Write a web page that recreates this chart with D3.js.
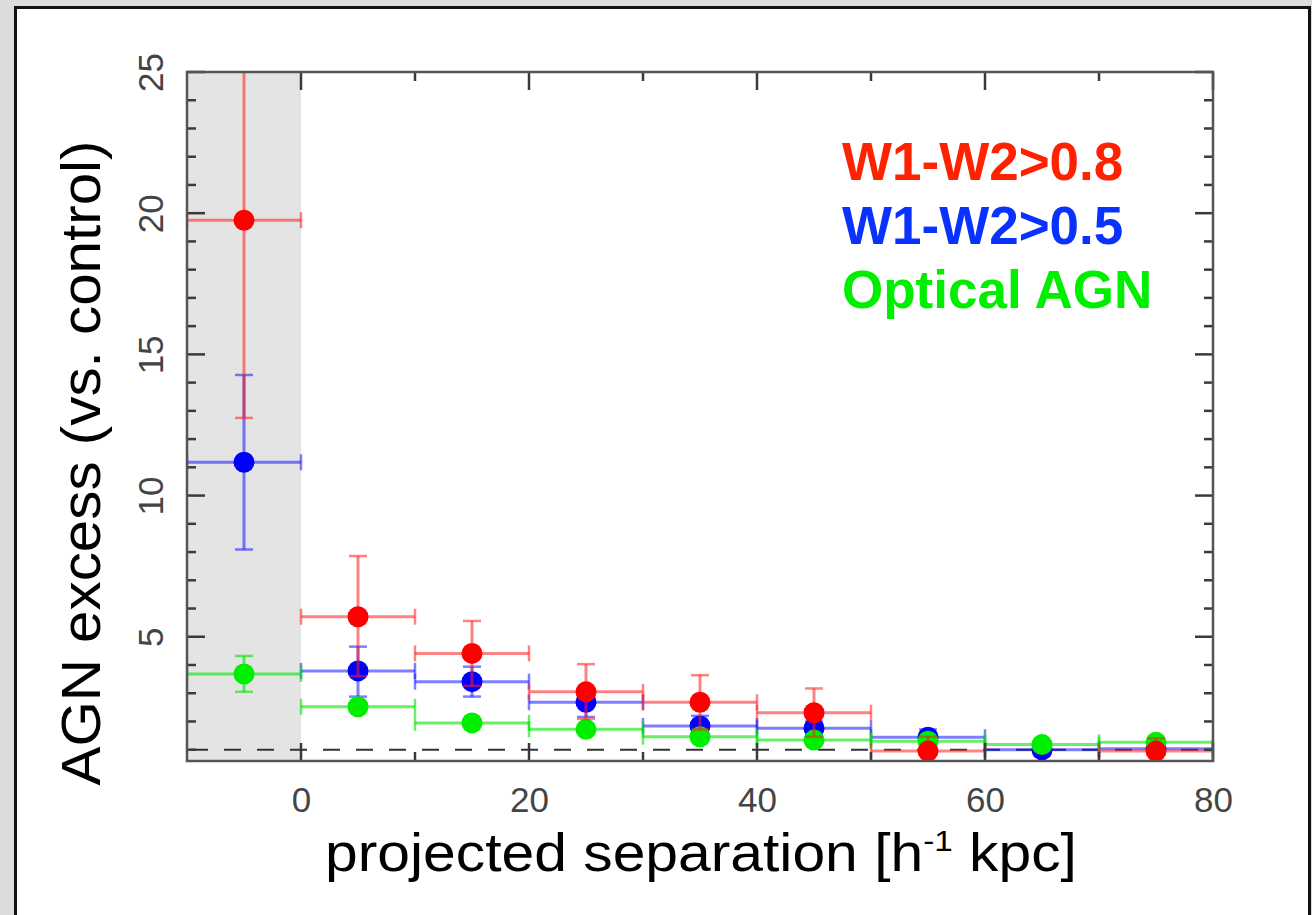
<!DOCTYPE html>
<html>
<head>
<meta charset="utf-8">
<script src="https://cdn.jsdelivr.net/npm/d3@7"></script>
<style>
  html, body { margin: 0; padding: 0; background: #dcdcde; }
  svg { display: block; }
</style>
</head>
<body>
<div id="chart"></div>
<script>
// bin centres [h^-1 kpc], each bin is 10 wide
const bins = [-5, 5, 15, 25, 35, 45, 55, 65, 75];
const halfWidth = 5;

const redY  = [19.75, 5.71, 4.41, 3.05, 2.68, 2.31, 0.95, null, 0.95];
const redLo = [12.75, 3.60, 3.26, 2.09, 1.72, 1.46, 0.45, null, 0.50];
const redHi = [26.80, 7.86, 5.56, 4.03, 3.64, 3.17, 1.46, null, 1.40];

const blueY  = [11.18, 3.79, 3.41, 2.68, 1.84, 1.76, 1.44, 1.00, 1.03];
const blueLo = [ 8.09, 2.88, 2.88, 2.16, 1.50, 1.50, 1.16, 0.80, 0.85];
const blueHi = [14.27, 4.65, 3.94, 3.16, 2.20, 2.00, 1.72, 1.20, 1.20];

const greenY  = [3.68, 2.52, 1.95, 1.72, 1.46, 1.34, 1.30, 1.18, 1.26];
const greenLo = [3.05, 2.37, 1.80, 1.57, 1.31, 1.19, 1.15, 1.03, 1.11];
const greenHi = [4.32, 2.67, 2.10, 1.87, 1.61, 1.49, 1.45, 1.33, 1.41];

const xTicks = [0, 20, 40, 60, 80];
const xMinor = [10, 30, 50, 70];
const yTicks = [5, 10, 15, 20, 25];
const legendLabels = ["W1-W2>0.8", "W1-W2>0.5", "Optical AGN"];

const W = 1312, H = 915;
const svg = d3.select('#chart').append('svg')
  .attr('width', W).attr('height', H);

// white panel with dark frame
svg.append('rect')
  .attr('x', 15.5).attr('y', 7.5)
  .attr('width', 1294).attr('height', 930)
  .attr('fill', 'white')
  .attr('stroke', '#111').attr('stroke-width', 3);

const x = d3.scaleLinear().domain([-10, 80]).range([187, 1213]);
const y = d3.scaleLinear().domain([0.6, 25]).range([761, 72]);

svg.append('clipPath').attr('id', 'plotClip')
  .append('rect')
  .attr('x', x(-10)).attr('y', y(25))
  .attr('width', x(80) - x(-10)).attr('height', y(0.6) - y(25));

// shaded region (separation < 0)
svg.append('rect')
  .attr('x', x(-10)).attr('y', y(25))
  .attr('width', x(0) - x(-10)).attr('height', y(0.6) - y(25))
  .attr('fill', '#e4e4e4');

// dashed line at excess = 1
svg.append('line')
  .attr('x1', x(-10)).attr('x2', x(80))
  .attr('y1', y(1)).attr('y2', y(1))
  .attr('stroke', '#333').attr('stroke-width', 2)
  .attr('stroke-dasharray', '17,16')
  .attr('stroke-dashoffset', -4);

const series = [
  { ys: blueY,  lo: blueLo,  hi: blueHi,  dot: '#0000ff', bar: 'rgba(20,20,255,0.55)' },
  { ys: greenY, lo: greenLo, hi: greenHi, dot: '#00ee00', bar: 'rgba(0,230,0,0.6)' },
  { ys: redY,   lo: redLo,   hi: redHi,   dot: '#ff0000', bar: 'rgba(255,30,30,0.55)' }
];

const dataG = svg.append('g').attr('clip-path', 'url(#plotClip)');

series.forEach(s => {
  const pts = bins.map((b, i) => ({ b: b, v: s.ys[i], lo: s.lo[i], hi: s.hi[i] }))
    .filter(d => d.v !== null);
  const g = dataG.append('g');
  const capV = 8, capH = 9;

  // horizontal bars with end caps
  pts.forEach(d => {
    const x0 = x(d.b - halfWidth), x1 = x(d.b + halfWidth), yy = y(d.v);
    g.append('line').attr('x1', x0).attr('x2', x1).attr('y1', yy).attr('y2', yy)
      .attr('stroke', s.bar).attr('stroke-width', 3);
    [x0, x1].forEach(xe => {
      g.append('line').attr('x1', xe).attr('x2', xe)
        .attr('y1', yy - capV).attr('y2', yy + capV)
        .attr('stroke', s.bar).attr('stroke-width', 2.5);
    });
  });

  // vertical bars with caps
  pts.forEach(d => {
    const xx = x(d.b);
    g.append('line').attr('x1', xx).attr('x2', xx)
      .attr('y1', y(d.lo)).attr('y2', y(d.hi))
      .attr('stroke', s.bar).attr('stroke-width', 3);
    [d.lo, d.hi].forEach(v => {
      g.append('line').attr('x1', xx - capH).attr('x2', xx + capH)
        .attr('y1', y(v)).attr('y2', y(v))
        .attr('stroke', s.bar).attr('stroke-width', 2.5);
    });
  });

  g.selectAll('circle').data(pts).enter().append('circle')
    .attr('cx', d => x(d.b)).attr('cy', d => y(d.v))
    .attr('r', 10.5).attr('fill', s.dot);
});

// inward ticks on all four sides
const tickColor = '#3a3a3a';
const yMinor = d3.range(1, 25).filter(v => v % 5 !== 0);
const tickG = svg.append('g');

function xTickLines(values, len) {
  [[y(0.6), -len], [y(25), len]].forEach(([y0, dir]) => {
    tickG.append('g').selectAll('line').data(values).enter().append('line')
      .attr('x1', d => x(d)).attr('x2', d => x(d))
      .attr('y1', y0).attr('y2', y0 + dir)
      .attr('stroke', tickColor).attr('stroke-width', 2.5);
  });
}
function yTickLines(values, len) {
  [[x(-10), len], [x(80), -len]].forEach(([x0, dir]) => {
    tickG.append('g').selectAll('line').data(values).enter().append('line')
      .attr('y1', d => y(d)).attr('y2', d => y(d))
      .attr('x1', x0).attr('x2', x0 + dir)
      .attr('stroke', tickColor).attr('stroke-width', 2.5);
  });
}
xTickLines(xTicks, 18);
xTickLines(xMinor, 9);
yTickLines(yTicks, 18);
yTickLines(yMinor, 9);

function styleLabels(g) {
  g.select('.domain').remove();
  g.selectAll('.tick line').remove();
  g.selectAll('.tick text').attr('fill', '#444')
    .style('font-family', 'Liberation Sans, Arial, sans-serif')
    .style('font-size', '35px');
}

// tick labels
svg.append('g').attr('transform', `translate(0,${y(0.6)})`)
  .call(d3.axisBottom(x).tickValues(xTicks).tickSize(0).tickPadding(26).tickFormat(d3.format('d')))
  .call(styleLabels);

const yLab = svg.append('g').attr('transform', `translate(${x(-10)},0)`)
  .call(d3.axisLeft(y).tickValues(yTicks).tickSize(0).tickFormat(d3.format('d')))
  .call(styleLabels);
yLab.selectAll('.tick text')
  .attr('x', 0).attr('dy', null)
  .attr('text-anchor', 'middle')
  .attr('transform', 'translate(-11,0) rotate(-90)')
  .attr('y', -13);

// plot frame
svg.append('rect')
  .attr('x', x(-10)).attr('y', y(25))
  .attr('width', x(80) - x(-10)).attr('height', y(0.6) - y(25))
  .attr('fill', 'none').attr('stroke', '#555').attr('stroke-width', 2.5);

// axis titles
const xt = svg.append('text')
  .attr('text-anchor', 'middle')
  .style('font-family', 'Liberation Sans, Arial, sans-serif')
  .style('font-size', '53px')
  .attr('fill', '#000');
xt.append('tspan').text('projected separation [h');
xt.append('tspan').attr('dy', -20).style('font-size', '30px').text('-1');
xt.append('tspan').attr('dy', 20).text(' kpc]');
const xtWidth = xt.node().getBBox().width;
xt.attr('transform', `translate(701,871) scale(${752 / xtWidth},1)`);

svg.append('text')
  .attr('transform', 'translate(100,463) rotate(-90)')
  .attr('text-anchor', 'middle')
  .attr('textLength', 645).attr('lengthAdjust', 'spacingAndGlyphs')
  .style('font-family', 'Liberation Sans, Arial, sans-serif')
  .style('font-size', '56px')
  .attr('fill', '#000')
  .text('AGN excess (vs. control)');

// legend
const legendColors = ['#ff2200', '#0a32ff', '#00ee00'];
const legendY = [180, 244, 308];
svg.selectAll('.legend').data(legendLabels).enter().append('text')
  .attr('class', 'legend')
  .attr('x', 842).attr('y', (d, i) => legendY[i])
  .attr('fill', (d, i) => legendColors[i])
  .style('font-family', 'Liberation Sans, Arial, sans-serif')
  .style('font-weight', 'bold')
  .style('font-size', '53px')
  .text(d => d);
</script>
</body>
</html>
